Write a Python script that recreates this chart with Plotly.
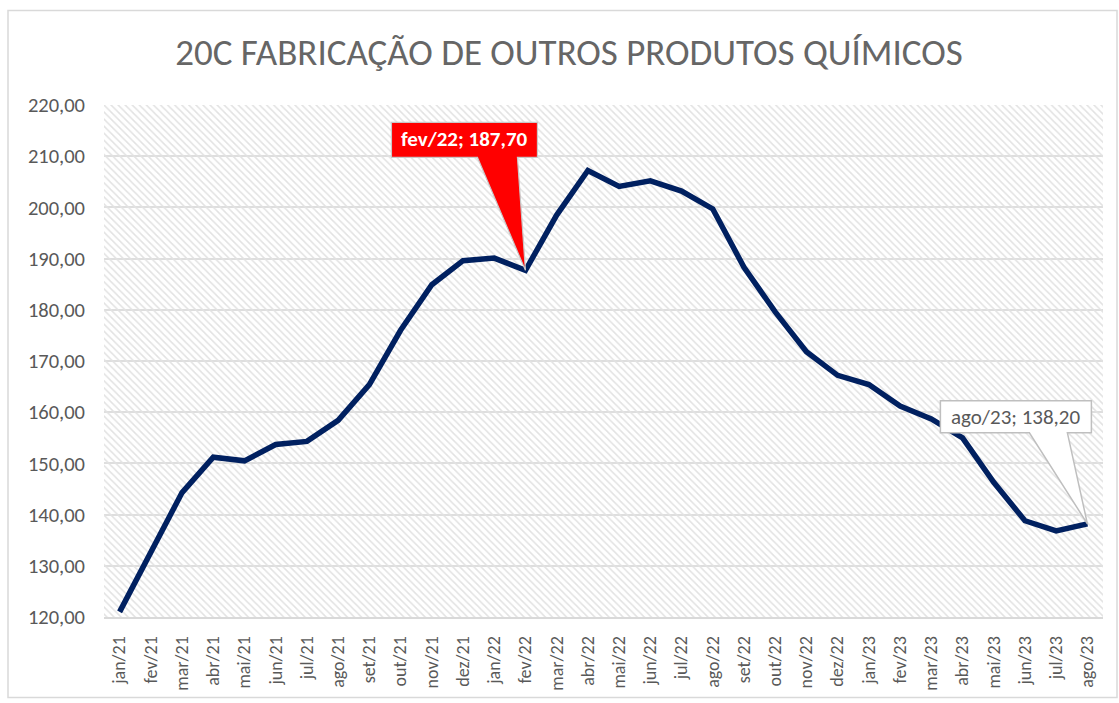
import plotly.graph_objects as go

categories = ["jan/21", "fev/21", "mar/21", "abr/21", "mai/21", "jun/21", "jul/21", "ago/21",
              "set/21", "out/21", "nov/21", "dez/21", "jan/22", "fev/22", "mar/22", "abr/22",
              "mai/22", "jun/22", "jul/22", "ago/22", "set/22", "out/22", "nov/22", "dez/22",
              "jan/23", "fev/23", "mar/23", "abr/23", "mai/23", "jun/23", "jul/23", "ago/23"]
values = [121.0, 132.6, 144.3, 151.2, 150.5, 153.7, 154.3, 158.4,
          165.4, 176.0, 184.9, 189.6, 190.1, 187.7, 198.5, 207.2,
          204.1, 205.2, 203.2, 199.7, 188.3, 179.6, 171.8, 167.2,
          165.4, 161.2, 158.7, 155.0, 146.3, 138.8, 136.8, 138.2]
title_text = "20C FABRICAÇÃO DE OUTROS PRODUTOS QUÍMICOS"
Y_MIN, Y_MAX, Y_STEP = 120, 220, 10
highlight_red = "fev/22"
highlight_gray = "ago/23"

FONT = "Carlito, Calibri, Lato, sans-serif"
GRAY_TXT = "#595959"

def fmt(v):
    return f"{v:.2f}".replace(".", ",")

fig = go.Figure()

# hatched plot-area background
fig.add_trace(go.Bar(
    x=categories, y=[Y_MAX - Y_MIN] * len(categories), base=Y_MIN, width=1,
    marker=dict(color="rgba(0,0,0,0)", line=dict(width=0),
                pattern=dict(shape="\\", fgcolor="#e2e2e2", bgcolor="rgba(255,255,255,0)",
                             size=5, solidity=0.3, fillmode="replace")),
    hoverinfo="skip", showlegend=False,
))

fig.add_trace(go.Scatter(
    x=categories, y=values, mode="lines",
    line=dict(color="#002060", width=5.5),
    showlegend=False, hoverinfo="x+y",
))

W, H = 1119, 703
L, R, T, B = 104, 16, 105, 83
pw, ph = W - L - R, H - T - B

shapes = []
# outer chart border
shapes.append(dict(type="rect", xref="paper", yref="paper",
                   x0=(8 - L) / pw, x1=(1117 - L) / pw,
                   y0=(H - B - 701) / ph, y1=(H - B - 10) / ph,
                   line=dict(color="#d9d9d9", width=1.5), fillcolor="rgba(0,0,0,0)", layer="below"))

ir = categories.index(highlight_red)
ig = categories.index(highlight_gray)

# red callout (box + wedge) in pixels relative to the data point
red_path = "M -134 148 L 12 148 L 12 113 L -8 113 L 0 0 L -48 113 L -134 113 Z"
shapes.append(dict(type="path", xref="x", yref="y", xsizemode="pixel", ysizemode="pixel",
                   xanchor=ir, yanchor=values[ir], path=red_path,
                   fillcolor="#ff0000", line=dict(color="#c8c8c8", width=1.2), layer="above"))
gray_path = "M -147 123 L 4 123 L 4 91 L -20 91 L 0 0 L -58 91 L -147 91 Z"
shapes.append(dict(type="path", xref="x", yref="y", xsizemode="pixel", ysizemode="pixel",
                   xanchor=ig, yanchor=values[ig], path=gray_path,
                   fillcolor="#ffffff", line=dict(color="#bfbfbf", width=1.5), layer="above"))

annotations = [
    dict(x=highlight_red, y=values[ir], xref="x", yref="y",
         text=f"<b>{highlight_red}; {fmt(values[ir])}</b>",
         showarrow=True, arrowcolor="rgba(0,0,0,0)", arrowwidth=0.1,
         ax=-61, ay=-131, axref="pixel", ayref="pixel",
         font=dict(family=FONT, size=21, color="white")),
    dict(x=highlight_gray, y=values[ig], xref="x", yref="y",
         text=f"{highlight_gray}; {fmt(values[ig])}",
         showarrow=True, arrowcolor="rgba(0,0,0,0)", arrowwidth=0.1,
         ax=-71.5, ay=-107, axref="pixel", ayref="pixel",
         font=dict(family=FONT, size=21, color=GRAY_TXT)),
]

fig.update_layout(
    width=W, height=H,
    margin=dict(l=L, r=R, t=T, b=B),
    paper_bgcolor="white", plot_bgcolor="white",
    separators=",.",
    title=dict(text=title_text, x=(569 - L) / pw, xref="paper", xanchor="center",
               y=1 - 52 / H, yanchor="middle",
               font=dict(family=FONT, size=37, color="#666666")),
    xaxis=dict(type="category", range=[-0.5, len(categories) - 0.5],
               tickangle=-90, tickfont=dict(family=FONT, size=18, color=GRAY_TXT),
               showgrid=False, showline=True, linecolor="#d9d9d9", linewidth=2,
               ticks="", ticklabelstandoff=10, fixedrange=True),
    yaxis=dict(range=[Y_MIN, Y_MAX], dtick=Y_STEP, tick0=Y_MIN, tickformat=".2f",
               tickfont=dict(family=FONT, size=20.5, color=GRAY_TXT),
               showgrid=True, gridcolor="#dedede", gridwidth=1.5,
               zeroline=False, showline=False, ticks="", ticklabelstandoff=18,
               fixedrange=True),
    shapes=shapes, annotations=annotations,
    bargap=0, hovermode="closest",
)

fig.write_html("out.html", config={"displayModeBar": False},
               post_script="document.body.style.margin='0';document.body.style.overflow='hidden';")
